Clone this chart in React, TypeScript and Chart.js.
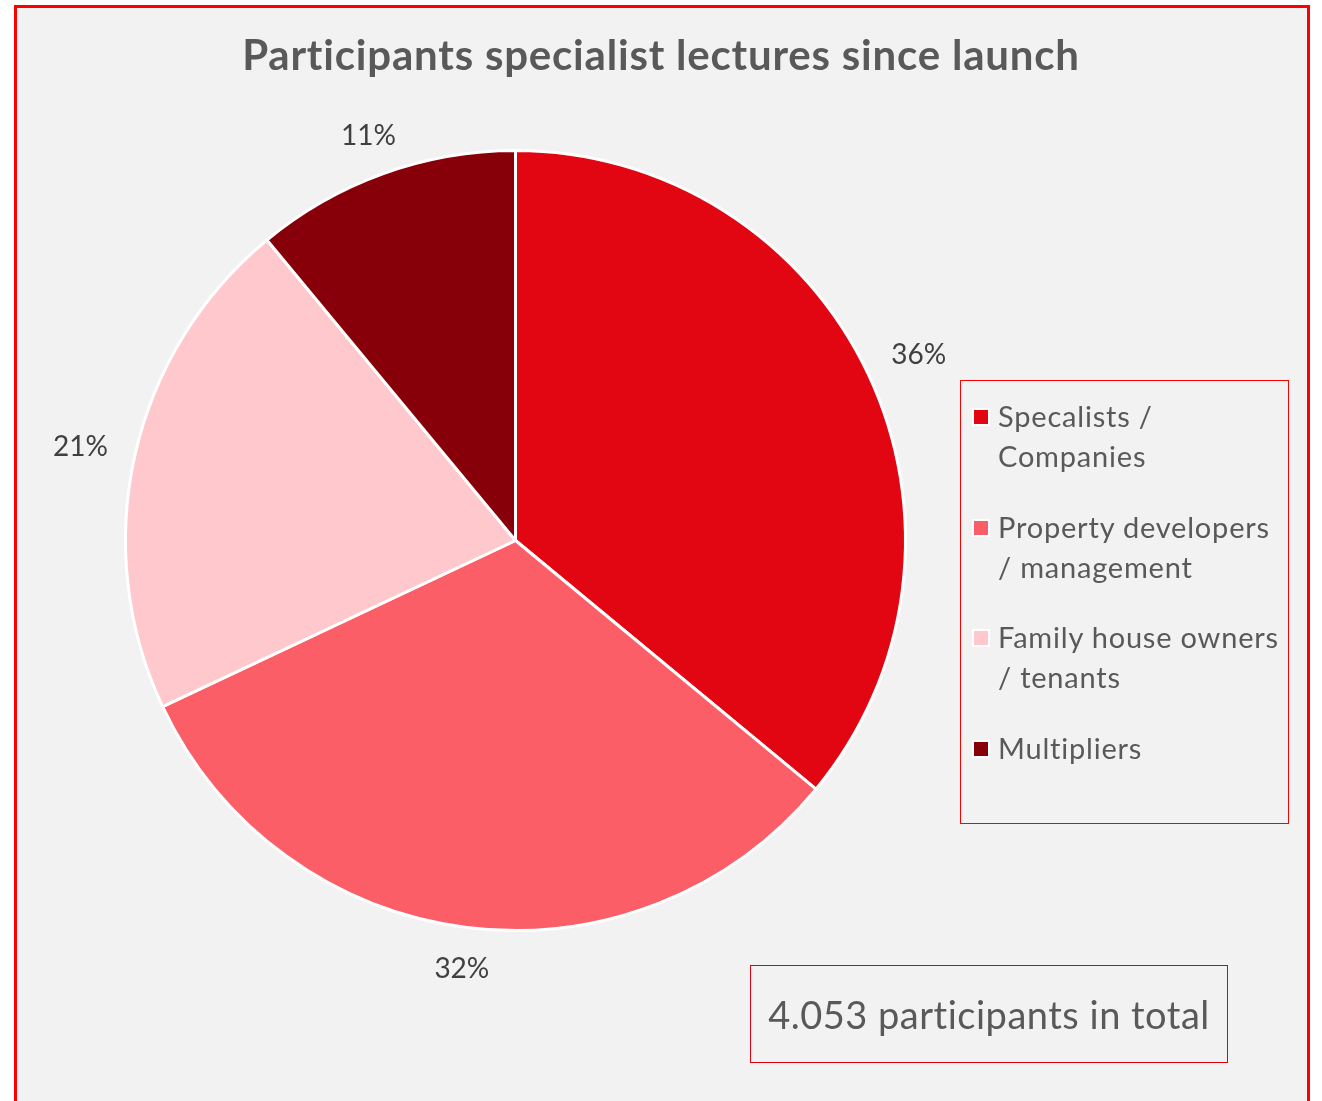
import React, { useEffect, useRef } from "react";
import { Chart, registerables } from "chart.js";

Chart.register(...registerables);

const titleText = "Participants specialist lectures since launch";
const categories = [
  ["Specalists /", "Companies"],
  ["Property developers", "/ management"],
  ["Family house owners", "/ tenants"],
  ["Multipliers"],
];
const shares = [36, 32, 21, 11];
const sliceColors = ["#e20613", "#fc5e67", "#fec8cc", "#870009"];
const totalText = "4.053 participants in total";

const FONT = "Lato, 'Open Sans', sans-serif";

const labelPlugin = {
  id: "outerLabels",
  afterDatasetsDraw(chart: any) {
    const ctx = chart.ctx;
    const meta = chart.getDatasetMeta(0);
    ctx.save();
    ctx.font = `28px ${FONT}`;
    ctx.fillStyle = "#404040";
    ctx.textAlign = "center";
    ctx.textBaseline = "middle";
    meta.data.forEach((arc: any, i: number) => {
      const p = arc.getProps(["startAngle", "endAngle", "x", "y", "outerRadius"], true);
      const mid = (p.startAngle + p.endAngle) / 2;
      const text = `${shares[i]}%`;
      const w = ctx.measureText(text).width + 4;
      const h = 19;
      const c = Math.cos(mid);
      const s = Math.sin(mid);
      const r = p.outerRadius + 25 + Math.abs(c) * w / 2 + Math.abs(s) * h / 2;
      ctx.fillText(text, p.x + c * r, p.y + s * r + 4);
    });
    ctx.restore();
  },
};

export default function App() {
  const ref = useRef<HTMLCanvasElement | null>(null);

  useEffect(() => {
    if (!ref.current) return;
    const chart = new Chart(ref.current, {
      type: "pie",
      data: {
        labels: categories.map((c) => c.join(" ")),
        datasets: [
          {
            data: shares,
            backgroundColor: sliceColors,
            borderColor: "#ffffff",
            borderWidth: 3,
          },
        ],
      },
      options: {
        responsive: false,
        animation: false,
        layout: { padding: { left: 124, top: 149, right: 415, bottom: 169 } },
        plugins: {
          legend: { display: false },
          tooltip: { enabled: false },
          title: { display: false },
        },
      },
      plugins: [labelPlugin],
    });
    return () => chart.destroy();
  }, []);

  return (
    <div
      style={{
        position: "absolute",
        left: 0,
        top: 0,
        width: 1322,
        height: 1101,
        overflow: "hidden",
        background: "#ffffff",
        fontFamily: FONT,
      }}
    >
      <div
        style={{
          position: "absolute",
          left: 14,
          top: 5,
          width: 1296,
          height: 1120,
          border: "3px solid #ff0000",
          background: "#f2f2f2",
          boxSizing: "border-box",
        }}
      />
      <canvas
        ref={ref}
        width={1322}
        height={1101}
        style={{ position: "absolute", left: 0, top: 0, width: 1322, height: 1101 }}
      />
      <div
        style={{
          position: "absolute",
          left: 0,
          width: 1322,
          top: 24,
          textAlign: "center",
          fontSize: 42,
          fontWeight: 700,
          letterSpacing: "0.8px",
          color: "#595959",
          lineHeight: "60px",
        }}
      >
        {titleText}
      </div>
      <div
        style={{
          position: "absolute",
          left: 960,
          top: 380,
          width: 329,
          height: 444,
          border: "1px solid #ff0000",
          boxSizing: "border-box",
        }}
      >
        {categories.map((lines, i) => (
          <div
            key={i}
            style={{
              position: "absolute",
              left: 0,
              top: 15 + i * 110.5,
              width: 329,
            }}
          >
            <div
              style={{
                position: "absolute",
                left: 11,
                top: 12,
                width: 14,
                height: 14,
                background: sliceColors[i],
                border: "2px solid #ffffff",
              }}
            />
            <div
              style={{
                position: "absolute",
                left: 37,
                top: 0,
                fontSize: 29,
                letterSpacing: "0.8px",
                lineHeight: "40px",
                color: "#595959",
                whiteSpace: "nowrap",
              }}
            >
              {lines.map((l, j) => (
                <div key={j}>{l}</div>
              ))}
            </div>
          </div>
        ))}
      </div>
      <div
        style={{
          position: "absolute",
          left: 750,
          top: 965,
          width: 478,
          height: 98,
          border: "1px solid #e00010",
          boxSizing: "border-box",
          display: "flex",
          alignItems: "center",
          justifyContent: "center",
          fontSize: 38,
          letterSpacing: "0.5px",
          color: "#595959",
        }}
      >
        {totalText}
      </div>
    </div>
  );
}
